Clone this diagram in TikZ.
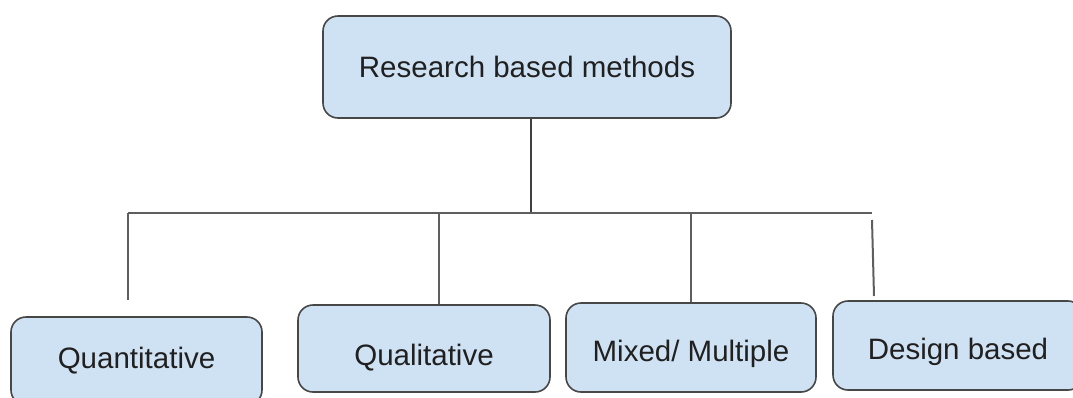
\documentclass[tikz,border=0pt]{standalone}
\usepackage{fontspec}
\setmainfont{Liberation Sans}
\usepackage{tikz}
\usetikzlibrary{positioning}
\definecolor{boxfill}{HTML}{CFE2F3}
\definecolor{boxline}{HTML}{474747}
\definecolor{linkgray}{HTML}{5E5E5E}
\definecolor{textdark}{HTML}{202020}

\begin{document}
\begin{tikzpicture}[x=1pt, y=-1pt,
    box/.style={draw=boxline, line width=1.6pt, rounded corners=15pt, fill=boxfill, minimum width=#1, minimum height=88pt, inner sep=0pt, text=textdark, font=\fontsize{29.5}{34}\selectfont},
    box/.default=250pt,
    low/.style={text height=33pt, text depth=#1},
    link/.style={draw=linkgray, line width=2pt}
]
\useasboundingbox (0,0) rectangle (1073,397);
\clip (0,0) rectangle (1073,397);

\node[box=408pt, minimum height=102pt] (methods) at (527,67) {Research based methods};
\node[box=251pt] (quant) at (136.5,361) {Quantitative};
\node[box=252pt, minimum height=87pt, low=0pt] (qual) at (424,348.5) {Qualitative};
\node[box, minimum height=89pt, low=6pt] (mixed) at (691,347.5) {Mixed/ Multiple};
\node[box, minimum height=89pt, low=6pt] (design) at (958,345.5) {Design based};

% branching bus
\coordinate (hub) at (531,213);
\coordinate (busL) at (128,213);
\coordinate (busR) at (872,213);
\coordinate (quanttop) at (128,300);
\coordinate (qualbus) at (439,213);
\coordinate (designA) at (872,220);
\coordinate (designB) at (874,296);

\draw[link, draw=black!75, line width=2.6pt] (methods.south -| hub) -- (hub);
\draw[link] (busL) -- (busR);
\draw[link] (busL) -- (quanttop);
\draw[link] (qualbus) -- (qualbus |- qual.north);
\draw[link] (mixed.north |- hub) -- (mixed.north);
\draw[link] (designA) -- (designB);
\end{tikzpicture}
\end{document}
